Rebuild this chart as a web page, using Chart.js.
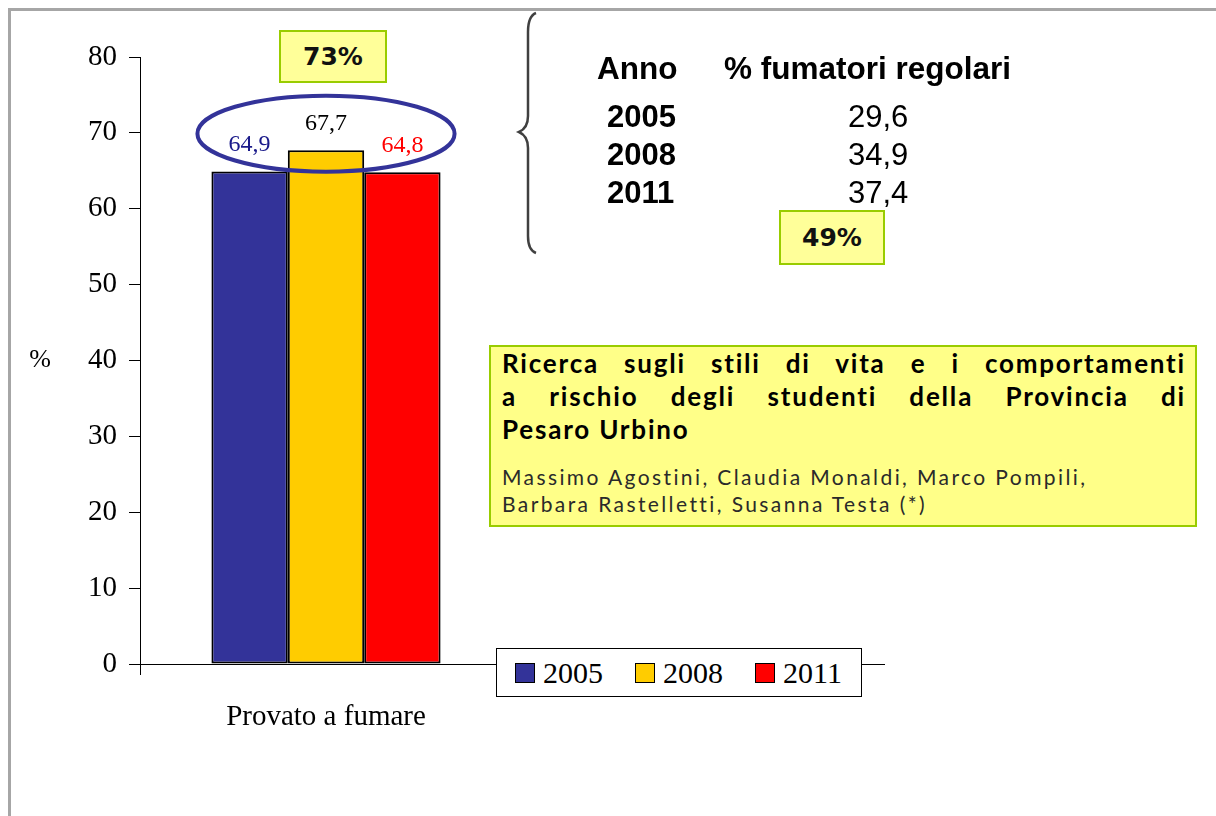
<!DOCTYPE html>
<html>
<head>
<meta charset="utf-8">
<script src="https://cdn.jsdelivr.net/npm/chart.js@4.4.0/dist/chart.umd.min.js"></script>
<style>
  html, body { margin: 0; padding: 0; background: #fff; overflow: hidden; }
  #wrap { position: relative; width: 1216px; height: 816px; overflow: hidden; }
  #frame { position: absolute; left: 8px; top: 8px; width: 1400px; height: 1000px;
           border-left: 3px solid #a6a6a6; border-top: 3px solid #a6a6a6; }
  canvas { position: absolute; left: 0; top: 0; }
  .t { position: absolute; font-family: "Liberation Sans", Arial, sans-serif; font-size: 31px;
       line-height: 34px; color: #000; white-space: nowrap; }
  .b { font-weight: bold; }
  .hd { font-size: 31.5px; }
  .note { position: absolute; background: #ffff99; border: 2px solid #99cc00; box-sizing: border-box;
          font-family: "DejaVu Sans", Verdana, sans-serif; font-weight: bold; font-size: 25px;
          display: flex; align-items: center; justify-content: center; color: #111; }
  #ref { position: absolute; left: 489px; top: 345px; width: 708px; height: 182px; box-sizing: border-box;
         background: #ffff88; border: 2px solid #99cc00; padding: 0 9px 0 11px; }
  #ref .ti { font-family: Lato, "Open Sans", sans-serif; font-weight: bold; font-size: 26px; letter-spacing: 1.8px;
             line-height: 33px; color: #000; text-align: justify; text-align-last: justify; white-space: nowrap; }
  #ref .ti.last { text-align-last: left; }
  #ref .au { font-family: Lato, "Open Sans", sans-serif; font-size: 21px; letter-spacing: 2.4px;
             line-height: 27px; color: #2a2a2a; white-space: nowrap; }
  #legend { position: absolute; left: 496px; top: 648px; width: 366px; height: 49px; box-sizing: border-box;
            background: #fff; border: 1.5px solid #000; display: flex; align-items: center; padding-left: 18px; }
  #legend .item { display: flex; align-items: center; margin-right: 32px; }
  #legend .sw { width: 20px; height: 20px; box-sizing: border-box; border: 1.5px solid #000; margin-right: 8px; }
  #legend .lb { font-family: "Liberation Serif", "Times New Roman", serif; font-size: 30px; line-height: 30px; color: #000; }
</style>
</head>
<body>
<div id="wrap">
  <div id="frame"></div>
  <canvas id="myChart" width="1216" height="816"></canvas>

  <div id="tbl"></div>

  <div id="ref">
    <div class="ti">Ricerca sugli stili di vita e i comportamenti</div>
    <div class="ti">a rischio degli studenti della Provincia di</div>
    <div class="ti last">Pesaro Urbino</div>
    <div class="au" style="margin-top:17px">Massimo Agostini, Claudia Monaldi, Marco Pompili,</div>
    <div class="au">Barbara Rastelletti, Susanna Testa (*)</div>
  </div>

  <div id="legend"></div>
</div>

<script>
// data
const categories = ["Provato a fumare", ""];
const years = ["2005", "2008", "2011"];
const tried2005 = [64.9, null];
const tried2008 = [67.7, null];
const tried2011 = [64.8, null];
const yTicks = [0, 10, 20, 30, 40, 50, 60, 70, 80];

// side table: regular smokers
const tableYears = ["2005", "2008", "2011"];
const regularSmokers = [29.6, 34.9, 37.4];
const changeTried = "73%";
const changeRegular = "49%";

const barColors = ["#333399", "#ffcc00", "#ff0000"];
const labelColors = ["#1a1a8a", "#000000", "#ff0000"];
const serif = '"Liberation Serif", "Times New Roman", serif';

const fmt = (v) => v.toFixed(1).replace(".", ",");

// table + boxes (text only)
const tbl = document.getElementById("tbl");
function addText(txt, left, top, cls) {
  const d = document.createElement("div");
  d.className = "t " + (cls || "");
  d.style.left = left + "px";
  d.style.top = top + "px";
  d.textContent = txt;
  tbl.appendChild(d);
}
addText("Anno", 597, 51, "b hd");
addText("% fumatori regolari", 724, 51, "b hd");
const rowTop = [100, 138, 176];
tableYears.forEach((y, i) => {
  addText(y, 607, rowTop[i], "b");
  addText(fmt(regularSmokers[i]), 848, rowTop[i], "");
});
function addNote(txt, left, top, w, h) {
  const d = document.createElement("div");
  d.className = "note";
  Object.assign(d.style, { left: left + "px", top: top + "px", width: w + "px", height: h + "px" });
  d.textContent = txt;
  document.getElementById("wrap").appendChild(d);
}
addNote(changeTried, 279, 30, 108, 53);
addNote(changeRegular, 779, 210, 106, 55);

// value labels above bars
const valueLabels = {
  id: "valueLabels",
  afterDatasetsDraw(chart) {
    const ctx = chart.ctx;
    ctx.save();
    ctx.font = "24px " + serif;
    ctx.textAlign = "center";
    ctx.textBaseline = "middle";
    chart.data.datasets.forEach((ds, i) => {
      chart.getDatasetMeta(i).data.forEach((bar, j) => {
        const v = ds.data[j];
        if (v == null) return;
        ctx.fillStyle = labelColors[i];
        ctx.fillText(fmt(v), bar.x, bar.y - 27);
      });
    });
    ctx.restore();
  }
};

// ellipse round the bar tops, brace, "%" label
const decor = {
  id: "decor",
  afterDatasetsDraw(chart) {
    const ctx = chart.ctx;
    const first = chart.getDatasetMeta(0).data[0];
    const last = chart.getDatasetMeta(2).data[0];
    const l = first.x - first.width / 2;
    const r = last.x + last.width / 2;
    const cx = (l + r) / 2;
    const cy = chart.scales.y.getPixelForValue(69.9);
    ctx.save();
    ctx.strokeStyle = "#333399";
    ctx.lineWidth = 4;
    ctx.beginPath();
    ctx.ellipse(cx, cy, (r - l) / 2 + 14, 38, 0, 0, Math.PI * 2);
    ctx.stroke();

    // curly brace
    ctx.strokeStyle = "#404040";
    ctx.lineWidth = 2.5;
    ctx.beginPath();
    ctx.moveTo(536, 13);
    ctx.quadraticCurveTo(528, 16, 528, 32);
    ctx.lineTo(528, 116);
    ctx.quadraticCurveTo(528, 128, 519, 132);
    ctx.quadraticCurveTo(528, 136, 528, 148);
    ctx.lineTo(528, 236);
    ctx.quadraticCurveTo(528, 250, 536, 253);
    ctx.stroke();

    // unrotated axis title
    ctx.fillStyle = "#000";
    ctx.font = "26px " + serif;
    ctx.textAlign = "center";
    ctx.textBaseline = "middle";
    const a = chart.chartArea;
    ctx.fillText("%", 40, (a.top + a.bottom) / 2);
    ctx.restore();
  }
};

// legend as html box
const htmlLegend = {
  id: "htmlLegend",
  afterUpdate(chart) {
    const box = document.getElementById("legend");
    box.innerHTML = "";
    chart.options.plugins.legend.labels.generateLabels(chart).forEach((item) => {
      const it = document.createElement("div");
      it.className = "item";
      const sw = document.createElement("span");
      sw.className = "sw";
      sw.style.background = item.fillStyle;
      const lb = document.createElement("span");
      lb.className = "lb";
      lb.textContent = item.text;
      it.appendChild(sw);
      it.appendChild(lb);
      box.appendChild(it);
    });
  }
};

const ctx = document.getElementById("myChart").getContext("2d");

const data = {
  labels: categories,
  datasets: [
    { label: years[0], data: tried2005, backgroundColor: barColors[0] },
    { label: years[1], data: tried2008, backgroundColor: barColors[1] },
    { label: years[2], data: tried2011, backgroundColor: barColors[2] },
  ].map((d) => ({ ...d, borderColor: "#000", borderWidth: 2, borderSkipped: false })),
};

const config = {
  type: "bar",
  data: data,
  options: {
    responsive: false,
    animation: false,
    devicePixelRatio: 1,
    categoryPercentage: 0.616,
    barPercentage: 1,
    layout: { padding: { left: 10, right: 332, top: 57, bottom: 0 } },
    plugins: {
      legend: { display: false },
      tooltip: { enabled: false },
    },
    scales: {
      x: {
        afterFit: (s) => { s.height = 152; },
        border: { display: true, color: "#000", width: 1 },
        grid: {
          drawOnChartArea: false,
          tickLength: 11,
          color: (c) => (c.index === 0 ? "#000" : "rgba(0,0,0,0)"),
        },
        ticks: { color: "#000", font: { family: serif, size: 29 }, padding: 25 },
      },
      y: {
        min: 0,
        max: 80,
        afterFit: (s) => { s.width = 130; },
        afterBuildTicks: (s) => { s.ticks = yTicks.map((v) => ({ value: v })); },
        border: { display: true, color: "#000", width: 1 },
        grid: { drawOnChartArea: false, tickLength: 11, color: "#000" },
        ticks: { color: "#000", font: { family: serif, size: 29 }, padding: 12 },
      },
    },
  },
  plugins: [valueLabels, decor, htmlLegend],
};

const myChart = new Chart(ctx, config);
</script>
</body>
</html>
